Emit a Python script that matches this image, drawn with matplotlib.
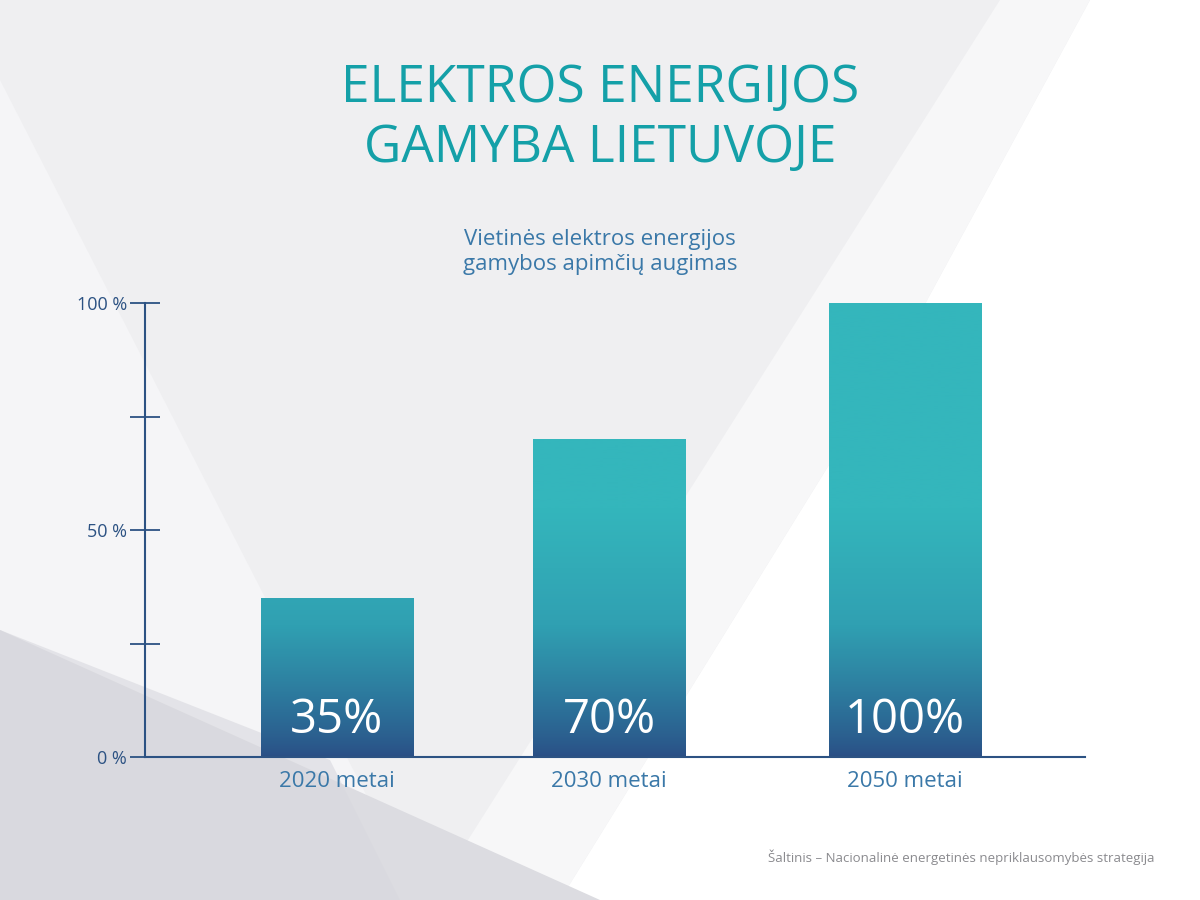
import matplotlib
matplotlib.use("Agg")
import matplotlib.pyplot as plt
import numpy as np
from matplotlib.patches import Polygon
from matplotlib.colors import LinearSegmentedColormap

years = ["2020 metai", "2030 metai", "2050 metai"]
shares = [35, 70, 100]
bar_labels = ["35%", "70%", "100%"]

TEAL = "#34b6bc"
NAVY = "#2a4e85"
TICK = "#2c5283"

fig = plt.figure(figsize=(12, 9), dpi=100)
fig.patch.set_facecolor("#efeff1")

# background facets
bg = fig.add_axes([0, 0, 1, 1], zorder=-5)
bg.set_xlim(0, 1200); bg.set_ylim(900, 0); bg.axis("off")
bg.add_patch(Polygon([[1090, 0], [1200, 0], [1200, 900], [760, 900], [560, 900], [900, 350]],
                     closed=True, color="#ffffff", lw=0))
bg.add_patch(Polygon([[1090, 0], [900, 350], [560, 900], [430, 900], [1000, 0]],
                     closed=True, color="#f7f7f8", lw=0))
bg.add_patch(Polygon([[0, 80], [0, 900], [420, 900]], closed=True, color="#f5f5f7", lw=0))
bg.add_patch(Polygon([[0, 630], [600, 900], [0, 900]], closed=True, color="#dcdce1", lw=0))
bg.add_patch(Polygon([[0, 630], [330, 760], [400, 900], [0, 900]], closed=True, color="#d8d8de", lw=0, alpha=0.6))

fig.text(0.5, 0.902, "ELEKTROS ENERGIJOS", ha="center", va="center", fontsize=37,
         color="#14a0a8", family="Open Sans")
fig.text(0.5, 0.835, "GAMYBA LIETUVOJE", ha="center", va="center", fontsize=37,
         color="#14a0a8", family="Open Sans")
fig.text(0.5, 0.72, "Vietinės elektros energijos\ngamybos apimčių augimas", ha="center",
         va="center", fontsize=16, color="#3a78a8", family="Open Sans", linespacing=1.2)
fig.text(0.962, 0.047, "Šaltinis – Nacionalinė energetinės nepriklausomybės strategija",
         ha="right", va="center", fontsize=9.5, color="#8a8a8e", family="Open Sans")

ax = fig.add_axes([145 / 1200, 1 - 757 / 900, 940 / 1200, 454 / 900])
ax.set_facecolor("none")
ax.set_xlim(0, 940)
ax.set_ylim(0, 100)
centers = [192, 464, 760]
width = 153

cmap = LinearSegmentedColormap.from_list("g", [(0, NAVY), (0.25, "#2c6f98"), (0.6, "#30a0b2"), (1, TEAL)])
grad = np.clip(np.linspace(0, 100, 400) / 55, 0, 1)[:, None] ** 0.8
for c, v, lab in zip(centers, shares, bar_labels):
    bar = ax.bar(c, v, width=width, color="none", lw=0)[0]
    im = ax.imshow(grad, cmap=cmap, vmin=0, vmax=1, origin="lower", aspect="auto",
                   extent=[0, 940, 0, 100], zorder=1)
    im.set_clip_path(bar)
    ax.text(c, 8, lab, ha="center", va="center", fontsize=34, color="white",
            family="Open Sans", zorder=3)

ax.set_xticks(centers)
ax.set_xticklabels(years, fontsize=16, color="#3a78a8", family="Open Sans")
ax.tick_params(axis="x", length=0, pad=10)
ax.set_yticks([0, 25, 50, 75, 100])
ax.set_yticklabels(["0 %", "", "50 %", "", "100 %"], fontsize=13, color=TICK, family="Open Sans")
ax.tick_params(axis="y", direction="inout", length=22, width=1.3, color=TICK, pad=2)
for s in ("top", "right"):
    ax.spines[s].set_visible(False)
for s in ("left", "bottom"):
    ax.spines[s].set_color(TICK)
    ax.spines[s].set_linewidth(1.5)

fig.savefig("out.png", dpi=100, facecolor=fig.get_facecolor())
